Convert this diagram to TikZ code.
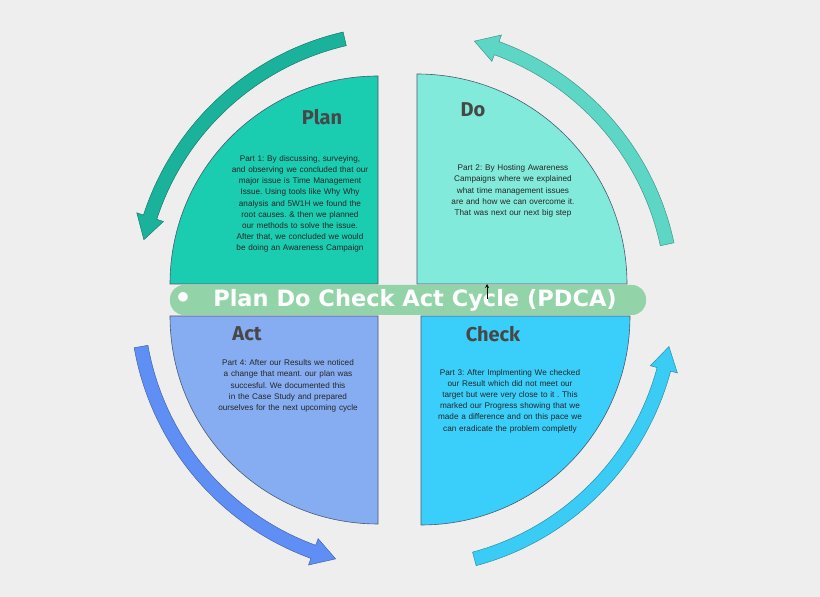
\documentclass[tikz,border=0pt]{standalone}
\usepackage{fontspec}
\setmainfont{Liberation Sans}
\newfontfamily\titlefont{Fira Sans}
\newfontfamily\bannerfont{DejaVu Sans}
\usetikzlibrary{calc}
\definecolor{bg}{HTML}{EEEEEE}
\definecolor{planc}{HTML}{1ACCB0}
\definecolor{doc}{HTML}{82EADA}
\definecolor{actc}{HTML}{86ADF2}
\definecolor{checkc}{HTML}{3ACFFA}
\definecolor{bannerc}{HTML}{92D4A8}
\definecolor{edgec}{HTML}{4A5A70}
\frenchspacing
\begin{document}
\begin{tikzpicture}[x=1pt,y=1pt]
            \tikzstyle{quart}=[draw=edgec,line width=0.6pt]
            \tikzstyle{titre}=[font=\titlefont\bfseries\fontsize{20}{22}\selectfont,text=black!72]
            \tikzset{corps/.style = {align=center,text width=146pt,execute at begin node={\hyphenpenalty=10000},font=\fontsize{8.2}{11.2}\selectfont,text=black!85}}
            \fill[bg] (0,0) rectangle (820,597);
            \useasboundingbox (0,0) rectangle (820,597);
            % cycle arrows
            \foreach \a/\b/\c in {103/162/1AB29A,190/250/5F8FF5,285/345/3ACCF5,12/70/5ED6C6}{
                \definecolor{flc}{HTML}{\c}
                \filldraw[fill=flc,draw=flc!70!black,line width=0.5pt] (405,297) ++(\a:275) arc (\a:\b:275)
                    -- ($(405,297)+(\b:282)$) -- ($(405,297)+(\b+5:268)$) -- ($(405,297)+(\b:254)$)
                    -- ($(405,297)+(\b:261)$) arc (\b:\a:261) -- cycle;
            }
            % quarters
            \filldraw[quart,fill=planc] (378,313) -- (170,313) arc (180:90:208) -- cycle;
            \filldraw[quart,fill=doc] (417,313) -- (417,523) arc (90:0:210) -- cycle;
            \filldraw[quart,fill=actc] (378,281) -- (170,281) arc (180:270:208) -- cycle;
            \filldraw[quart,fill=checkc] (421,281) -- (421,72) arc (270:360:209) -- cycle;
            \node[titre] (plan) at (322,480) {Plan};
            \node[titre] (do) at (473,487) {Do};
            \node[titre] (act) at (247,263) {Act};
            \node[titre] (check) at (493,263) {Check};
            \node[corps] (t1) at (300,393) {Part 1: By discussing, surveying, and observing we concluded that our major issue is Time Management Issue. Using tools like Why Why analysis and 5W1H we found the root causes. \& then we planned our methods to solve the issue. After that, we concluded we would be doing an Awareness Campaign};
            \node[corps] (t2) at (513,406) {Part 2: By Hosting Awareness Campaigns where we explained what time management issues are and how we can overcome it. That was next our next big step};
            \node[corps] (t4) at (288,211) {Part 4: After our Results we noticed a change that meant. our plan was succesful. We documented this in the Case Study and prepared ourselves for the next upcoming cycle};
            \node[corps] (t3) at (510,196) {Part 3: After Implmenting We checked our Result which did not meet our target but were very close to it . This marked our Progress showing that we made a difference and on this pace we can eradicate the problem completly};
            % banner
            \fill[bannerc,rounded corners=14pt] (170,282) rectangle (646,312);
            \node[text=white,font=\fontsize{24}{24}\selectfont] (puce) at (183,299) {$\bullet$};
            \node[text=white,font=\bannerfont\bfseries\fontsize{22.5}{24}\selectfont] (titre) at (415,297) {Plan Do Check Act Cycle (PDCA)};
            \coordinate (p) at (487,298);
            \coordinate (q) at (487,313);
            \draw[->,>=stealth,line width=0.8pt] (p) -- (q);
\end{tikzpicture}
\end{document}
